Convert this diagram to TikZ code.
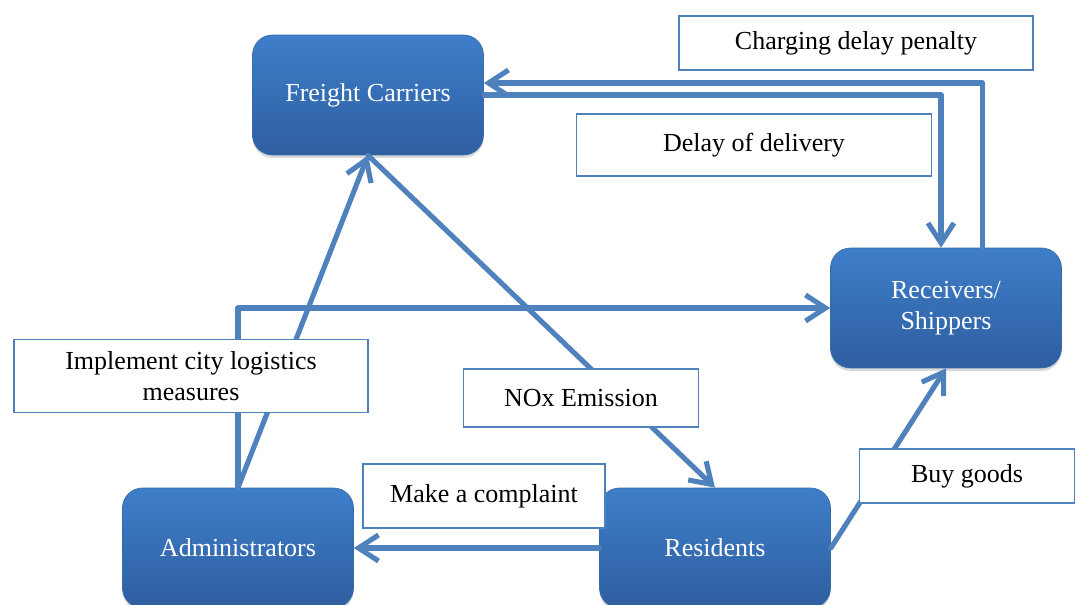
\documentclass[tikz,border=0pt]{standalone}
\usepackage{fontspec}
\setmainfont{Liberation Serif}
\usepackage{tikz}
\usetikzlibrary{arrows.meta,positioning,shadows}
\definecolor{lnblue}{RGB}{79,129,189}
\definecolor{topblue}{RGB}{62,126,201}
\definecolor{botblue}{RGB}{46,94,160}
\tikzset{
  ent/.style={rounded corners=0.4cm, top color=topblue, bottom color=botblue, draw=topblue!85!black, line width=0.4pt, text=white, align=center, minimum width=4.62cm, minimum height=2.4cm, font=\fontsize{14.8}{17.8}\selectfont, drop shadow={opacity=0.3, shadow xshift=0pt, shadow yshift=-0.06cm}},
  lab/.style={draw=lnblue, fill=white, line width=0.8pt, align=center, font=\fontsize{14.8}{17.8}\selectfont},
  arr/.style={-{Straight Barb[length=4mm,width=5.2mm]}, line width=2.9pt, draw=lnblue, line cap=round, line join=round}
}
\begin{document}
\begin{tikzpicture}[x=0.02cm, y=-0.02cm]
  \useasboundingbox (0,0) rectangle (1076,605);
  \node[ent] (fc) at (368,95) {Freight Carriers};
  \node[ent] (rec) at (946,308) {Receivers/\\Shippers};
  \node[ent] (adm) at (238,548) {Administrators};
  \node[ent] (res) at (715,548) {Residents};
  \draw[arr] ([xshift=0.73cm]rec.north) |- ([yshift=0.24cm]fc.east);
  \draw[arr] (fc.east) -| ([xshift=-0.1cm]rec.north);
  \draw[arr] (adm.north) |- (rec.west);
  \draw[arr] (adm.north) -- (fc.south);
  \draw[arr] (fc.south) -- (res.north);
  \draw[arr] (res.west) -- (adm.east);
  \draw[arr] (res.east) -- (rec.south);
  \node[lab, minimum width=7.08cm, minimum height=1.08cm] (chg) at (856,43) {Charging delay penalty};
  \node[lab, minimum width=7.1cm, minimum height=1.24cm] (dly) at (754,145) {Delay of delivery};
  \node[lab, minimum width=7.08cm, minimum height=1.46cm] (imp) at (191,376) {Implement city logistics\\measures};
  \node[lab, minimum width=4.7cm, minimum height=1.16cm] (nox) at (581,398) {NOx Emission};
  \node[lab, minimum width=4.84cm, minimum height=1.28cm] (cmp) at (484,496) {Make a complaint};
  \node[lab, minimum width=4.3cm, minimum height=1.08cm] (buy) at (967,476) {Buy goods};
\end{tikzpicture}
\end{document}
